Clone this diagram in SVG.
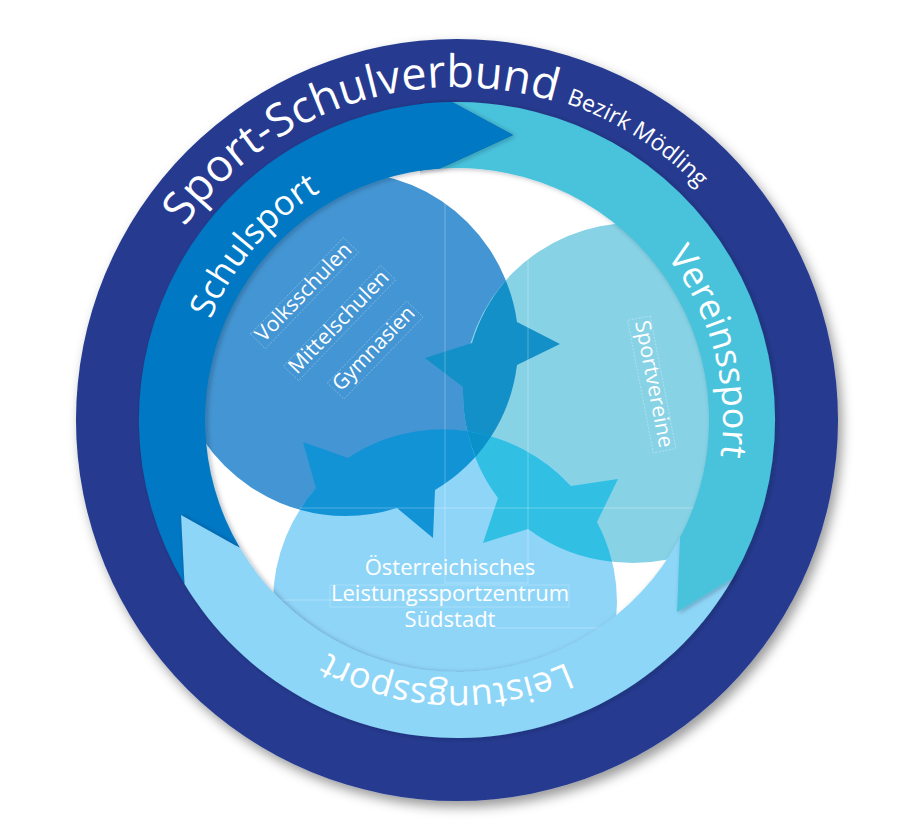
<svg xmlns="http://www.w3.org/2000/svg" xmlns:xlink="http://www.w3.org/1999/xlink" width="908" height="834" viewBox="0 0 908 834">
<style>
text{font-family:"Open Sans","Noto Sans","Liberation Sans",sans-serif;fill:#fff}
.guide{stroke:#fff;stroke-opacity:.28;stroke-width:1;fill:none}
.frame{stroke:#fff;stroke-opacity:.42;stroke-width:.7;stroke-dasharray:2 1.5;fill:none}
.big{font-size:36px}
.small{font-size:21px}
.mid{font-size:22px}
</style>
<defs>
<filter id="outerShadow" x="-10%" y="-10%" width="125%" height="125%"><feDropShadow dx="4" dy="6" stdDeviation="6" flood-color="#000" flood-opacity=".4"/></filter>
<filter id="ringShadow" x="-15%" y="-15%" width="130%" height="130%"><feDropShadow dx="2" dy="1" stdDeviation="2.5" flood-color="#123" flood-opacity=".3"/></filter>
<clipPath id="inner"><circle cx="457" cy="420" r="254"/></clipPath>
<clipPath id="headClip"><rect x="420" y="60" width="160" height="140"/></clipPath>
<path id="arc335" d="M122,422A335,335 0 1 1 792,422A335,335 0 1 1 122,422"/>
<path id="arc335b" d="M122,420A335,335 0 1 1 792,420A335,335 0 1 1 122,420"/>
<path id="arc266" d="M191,420A266,266 0 1 1 723,420A266,266 0 1 1 191,420"/>
<path id="schulPath" d="M452,102A318,318 0 0 0 184.5,584L181,515L240,548A252,252 0 0 1 440,168.6L513,135Z"/>
</defs>

<g id="outer-ring">
<circle cx="457" cy="420" r="381" fill="#253b90" filter="url(#outerShadow)"/>
<circle cx="457" cy="420" r="254" fill="#fff"/>
</g>

<g id="circles" clip-path="url(#inner)">
<g id="circle-schulen"><circle cx="346" cy="344" r="172" fill="#4495d3"/></g>
<g id="circle-vereine"><circle cx="633" cy="393" r="170" fill="#88d2e6"/></g>
<g id="circle-zentrum"><circle cx="445" cy="602" r="172" fill="#8fd5f8"/></g>
<path id="star-ab" fill="#1490c8" d="M505.8,280.4A172,172 0 0 1 517,322L560,344L517,365A172,172 0 0 1 475.6,457A170,170 0 0 1 463,387L425,358L472,343A170,170 0 0 1 505.8,280.4Z"/>
<path id="star-ac" fill="#1193d6" d="M299.8,509.7A172,172 0 0 1 316,488L303,442L348,458A172,172 0 0 1 491.2,436.3A172,172 0 0 1 435,490L433,538L397,508A172,172 0 0 1 299.8,509.7Z"/>
<path id="star-bc" fill="#31c0e3" d="M467.5,431.5A172,172 0 0 1 571,486L618,479L597,522A172,172 0 0 1 612.1,561.7A170,170 0 0 1 528,529L483,543L498,498A170,170 0 0 1 467.5,431.5Z"/>
<path id="overlap-abc" fill="#0a91c9" d="M467.5,431.5A172,172 0 0 1 491.2,436.3A172,172 0 0 1 475.6,457A170,170 0 0 1 467.5,431.5Z"/>
</g>

<g id="guides">
<path class="guide" d="M445,170V583M528,176V583M300,508H695M278,600H445M495,628H600M445,583H528"/>
</g>

<g id="arrows">
<g id="schulsport-tail"><use xlink:href="#schulPath" href="#schulPath" fill="#0078c4" filter="url(#ringShadow)"/></g>
<g id="leistungssport"><path fill="#8ed6f8" filter="url(#ringShadow)" d="M733,578A318,318 0 0 1 184.5,584L181,515L240,548A252,252 0 0 0 680,537.4Z"/></g>
<g id="vereinssport"><path fill="#48c3dc" filter="url(#ringShadow)" d="M452,102A318,318 0 0 1 733,578L677,612L680,537.4A252,252 0 0 0 440,168.6L513,135Z"/></g>
<g id="schulsport" clip-path="url(#headClip)"><use xlink:href="#schulPath" href="#schulPath" fill="#0078c4" filter="url(#ringShadow)"/></g>
</g>

<g id="ring-labels">
<text style="font-size:45px"><textPath xlink:href="#arc335" href="#arc335" startOffset="208">Sport-Schulverbund</textPath></text>
<text style="font-size:23px"><textPath xlink:href="#arc335b" href="#arc335b" startOffset="637">Bezirk Mödling</textPath></text>
<text style="font-size:34.5px"><textPath xlink:href="#arc266" href="#arc266" startOffset="103">Schulsport</textPath></text>
<text class="big"><textPath xlink:href="#arc266" href="#arc266" startOffset="659">Vereinssport</textPath></text>
<text class="big"><textPath xlink:href="#arc266" href="#arc266" startOffset="1140">Leistungssport</textPath></text>
</g>

<g id="label-volksschulen" transform="translate(264,343) rotate(-46)"><rect class="frame" x="-3" y="-16" width="134" height="21"/><text class="small" x="0" y="0" textLength="128" lengthAdjust="spacingAndGlyphs">Volksschulen</text></g>
<g id="label-mittelschulen" transform="translate(297,375) rotate(-46)"><rect class="frame" x="-3" y="-16" width="140" height="21"/><text class="small" x="0" y="0" textLength="134" lengthAdjust="spacingAndGlyphs">Mittelschulen</text></g>
<g id="label-gymnasien" transform="translate(341,392) rotate(-46)"><rect class="frame" x="-3" y="-16" width="114" height="23"/><text class="small" x="0" y="0" textLength="108" lengthAdjust="spacingAndGlyphs">Gymnasien</text></g>
<g id="label-sportvereine" transform="translate(635,322) rotate(79)"><rect class="frame" x="-3" y="-16" width="135" height="23"/><text class="small" x="0" y="0" textLength="129" lengthAdjust="spacingAndGlyphs">Sportvereine</text></g>
<g id="label-zentrum">
<rect class="frame" x="330" y="585" width="239" height="22" style="stroke-dasharray:none;stroke-opacity:.3"/>
<text class="mid" x="450" y="575" text-anchor="middle">Österreichisches</text>
<text class="mid" x="450" y="601" text-anchor="middle">Leistungssportzentrum</text>
<text class="mid" x="450" y="627" text-anchor="middle">Südstadt</text>
</g>
</svg>
